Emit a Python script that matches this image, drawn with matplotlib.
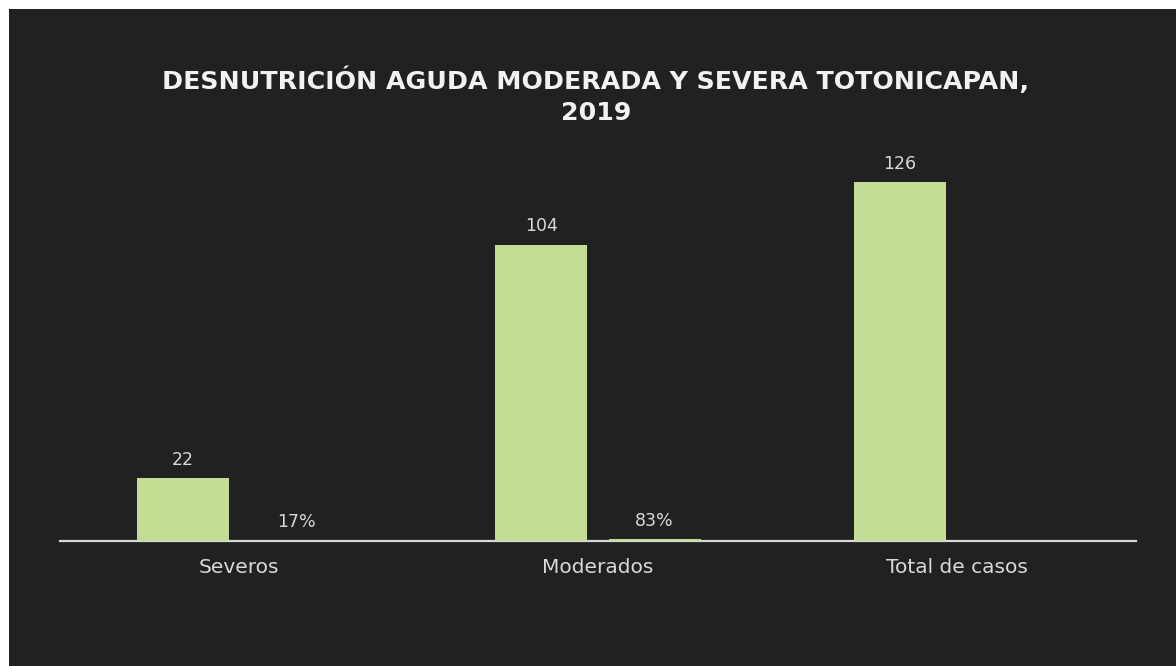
import matplotlib
matplotlib.use("Agg")
import matplotlib.pyplot as plt
import numpy as np
from matplotlib.patches import Rectangle

# Data
categories = ["Severos", "Moderados", "Total de casos"]
casos = [22, 104, 126]
porcentaje = [0.17, 0.83, None]
porcentaje_labels = ["17%", "83%", ""]

title = "DESNUTRICIÓN AGUDA MODERADA Y SEVERA TOTONICAPAN,\n2019"

bg = "#212121"
bar_color = "#c5dc94"
text_color = "#d9d9d9"

W, H = 1176, 666
fig = plt.figure(figsize=(W / 100, H / 100), dpi=100)
fig.patch.set_facecolor("white")

# dark slide area (white strip on top and left)
fig.patches.append(Rectangle((9 / W, 0), 1, 1 - 9 / H, transform=fig.transFigure,
                             facecolor=bg, edgecolor="none", zorder=-10))

ax = fig.add_axes([60 / W, (H - 541) / H, 1076 / W, 399 / H])
ax.set_facecolor("none")

x = np.arange(len(categories))
width = 0.257
offset = 0.158

b1 = ax.bar(x - offset, casos, width, color=bar_color, zorder=3)
vals2 = [v if v is not None else 0 for v in porcentaje]
b2 = ax.bar(x + offset, vals2, width, color=bar_color, zorder=3)

for rect, v in zip(b1, casos):
    ax.text(rect.get_x() + rect.get_width() / 2, v + 3.2, str(v),
            ha="center", va="bottom", color=text_color, fontsize=12.5)
for rect, v, lab in zip(b2, vals2, porcentaje_labels):
    if lab:
        ax.text(rect.get_x() + rect.get_width() / 2, v + 3.2, lab,
                ha="center", va="bottom", color=text_color, fontsize=12.5)

ax.set_xlim(-0.5, 2.5)
ax.set_ylim(0, 140)
ax.set_xticks(x)
ax.set_xticklabels(categories, color=text_color, fontsize=14.5)
ax.tick_params(axis="x", length=0, pad=12)
ax.set_yticks([])
for side in ["top", "right", "left"]:
    ax.spines[side].set_visible(False)
ax.spines["bottom"].set_color(text_color)
ax.spines["bottom"].set_linewidth(1.6)
ax.spines["bottom"].set_zorder(2)

fig.text(596 / W, 1 - 96 / H, title, ha="center", va="center", color="#f2f2f2",
         fontsize=18.2, fontweight="bold", linespacing=1.35)

fig.savefig("out.png", dpi=100, facecolor=fig.get_facecolor())
